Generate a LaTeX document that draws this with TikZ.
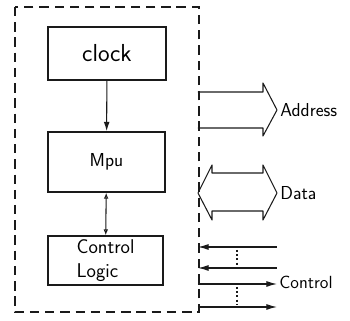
\documentclass[tikz,border=0pt]{standalone}
\usepackage{tikz}
\usetikzlibrary{arrows.meta, positioning, calc}
\definecolor{inkgray}{HTML}{1A1A1A}

\begin{document}
\begin{tikzpicture}[x=0.03cm, y=-0.03cm,
    blk/.style={draw=inkgray, line width=1.3pt, inner sep=0pt, font=\sffamily},
    bus/.style={draw=inkgray, line width=0.9pt, line join=round},
    sig/.style={inkgray, line width=0.9pt},
    lbl/.style={inner sep=1pt, font=\sffamily}]
    \useasboundingbox (0,0) rectangle (350,321);
    % outer board
    \draw[inkgray, line width=0.9pt, dash pattern=on 8pt off 5pt] (15,7) rectangle (199,312);
    % blocks
    \node[blk, minimum width=3.54cm, minimum height=1.59cm, font=\sffamily\fontsize{21}{24}\selectfont] (clk) at (107,53.5) {clock};
    \node[blk, minimum width=3.51cm, minimum height=1.80cm, font=\sffamily\fontsize{16}{18}\selectfont] (mpu) at (106.5,162) {Mpu};
    \node[blk, minimum width=3.45cm, minimum height=1.47cm, align=left, font=\sffamily\fontsize{17}{20}\selectfont] (ctl) at (105.5,260.5) {Control\\Logic};
    \draw[sig, -{Latex[length=8pt, width=5pt]}] (clk) -- (mpu);
    \draw[sig, {Latex[open, length=5pt, width=4pt]}-{Latex[open, length=5pt, width=4pt]}] (mpu) -- (ctl);
    % address bus
    \draw[bus] (198,92) -- (263,92) -- (263,83) -- (277,110) -- (263,136) -- (263,128) -- (198,128);
    \node[lbl, anchor=west, font=\sffamily\fontsize{16}{18}\selectfont] (adr) at (279,110) {Address};
    % data bus
    \draw[bus] (212,173) -- (263,173) -- (263,165) -- (277,193) -- (263,220) -- (263,211)
        -- (212,211) -- (212,220) -- (198,193) -- (212,165) -- cycle;
    \node[lbl, anchor=west, font=\sffamily\fontsize{16}{18}\selectfont] (dat) at (279,193) {Data};
    % control lines
    \coordinate (i1) at (277,247);
    \coordinate (o1) at (198,247);
    \coordinate (i2) at (277,268);
    \coordinate (o2) at (198,268);
    \coordinate (s3) at (198,284);
    \coordinate (e3) at (277,284);
    \coordinate (s4) at (198,307);
    \coordinate (e4) at (277,307);
    \draw[sig, -{Latex[length=9pt, width=5pt]}] (i1) -- (o1);
    \draw[sig, -{Latex[length=9pt, width=5pt]}] (i2) -- (o2);
    \draw[sig, -{Latex[length=9pt, width=5pt]}] (s3) -- (e3);
    \draw[sig, -{Latex[length=9pt, width=5pt]}] (s4) -- (e4);
    \draw[sig, line width=1.6pt, dotted] (237,250) -- (237,265);
    \draw[sig, line width=1.6pt, dotted] (237,287) -- (237,304);
    \node[lbl, anchor=west, font=\sffamily\fontsize{15}{18}\selectfont] (con) at (278,282) {Control};
\end{tikzpicture}
\end{document}
